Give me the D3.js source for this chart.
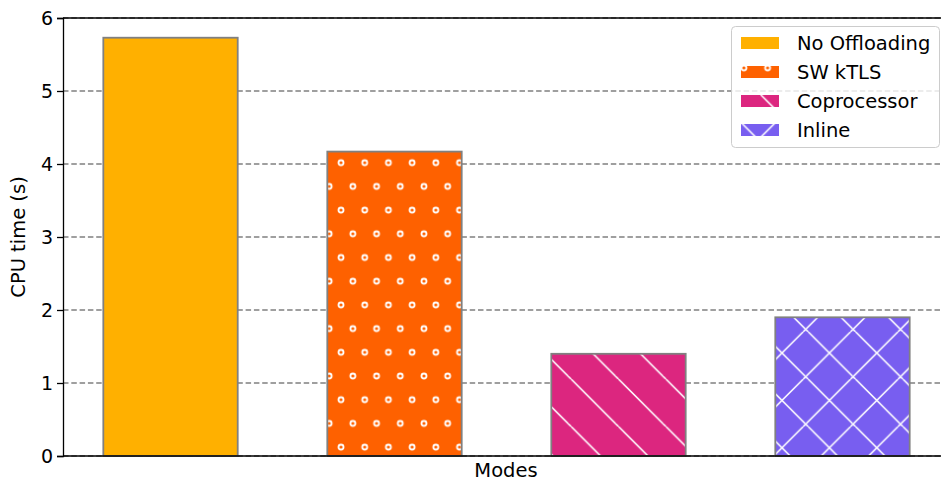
<!DOCTYPE html>
<html>
<head>
<meta charset="utf-8">
<script src="https://cdn.jsdelivr.net/npm/d3@7"></script>
<style>
body { margin: 0; background: #fff; }
svg { display: block; font-family: "DejaVu Sans", sans-serif; }
</style>
</head>
<body>
<svg id="chart" width="941" height="483"></svg>
<script>
// chart data
var modes = ["No Offloading", "SW kTLS", "Coprocessor", "Inline"]
var cpuTime = [5.73, 4.17, 1.40, 1.90]
var colors = ["#FFB000", "#FE6100", "#DC267F", "#785EF0"]
var hatches = ["none", "o", "\\", "x"]
var yTicks = [0, 1, 2, 3, 4, 5, 6]

var width = 941
var height = 483
// plot area edges (window.top is read-only, so no "top" here)
var plotL = 63, plotR = 950, plotT = 18, plotB = 456

var svg = d3.select("#chart")
var defs = svg.append("defs")

// hatch patterns, anchored to the page like matplotlib does
var T = 47.4
var circ = defs.append("pattern").attr("id", "hatch-o")
	.attr("patternUnits", "userSpaceOnUse")
	.attr("x", 3.3).attr("y", 8.65)
	.attr("width", T / 2).attr("height", T)
circ.append("rect").attr("width", T / 2).attr("height", T).attr("fill", colors[1])
;[[T / 8, T / 4], [T * 3 / 8, T * 3 / 4]].forEach(p => {
	circ.append("circle").attr("cx", p[0]).attr("cy", p[1]).attr("r", 2.5)
		.attr("fill", "none").attr("stroke", "#fff").attr("stroke-width", 1.8)
})

var back = defs.append("pattern").attr("id", "hatch-back")
	.attr("patternUnits", "userSpaceOnUse")
	.attr("width", T).attr("height", T)
back.append("rect").attr("width", T).attr("height", T).attr("fill", colors[2])
;[-1, 0, 1].forEach(k => {
	var c = 2.4 + k * T
	back.append("line").attr("x1", c).attr("y1", 0).attr("x2", c + T).attr("y2", T)
		.attr("stroke", "#fff").attr("stroke-width", 1.6)
})

var cross = defs.append("pattern").attr("id", "hatch-x")
	.attr("patternUnits", "userSpaceOnUse")
	.attr("width", T).attr("height", T)
cross.append("rect").attr("width", T).attr("height", T).attr("fill", colors[3])
;[-1, 0, 1].forEach(k => {
	var c = 2.4 + k * T
	cross.append("line").attr("x1", c).attr("y1", 0).attr("x2", c + T).attr("y2", T)
		.attr("stroke", "#fff").attr("stroke-width", 1.6)
})
;[-1, 0, 1, 2].forEach(k => {
	var c = 44.8 + k * T
	cross.append("line").attr("x1", c).attr("y1", 0).attr("x2", c - T).attr("y2", T)
		.attr("stroke", "#fff").attr("stroke-width", 1.6)
})

var fillFor = i => hatches[i] === "o" ? "url(#hatch-o)"
	: hatches[i] === "\\" ? "url(#hatch-back)"
	: hatches[i] === "x" ? "url(#hatch-x)" : colors[i]

// scales
var x = d3.scaleBand().domain(modes).range([plotL, plotR])
	.paddingInner(0.4).paddingOuter(0.18)
var y = d3.scaleLinear().domain([0, 6]).range([plotB, plotT])

// grid
svg.append("g").selectAll("line").data(yTicks).enter().append("line")
	.attr("x1", plotL).attr("x2", width)
	.attr("y1", d => y(d)).attr("y2", d => y(d))
	.attr("stroke", "#808080").attr("stroke-width", 1.3)
	.attr("stroke-dasharray", "5.5,2.8")

// bars
svg.append("g").selectAll("rect").data(modes).enter().append("rect")
	.attr("x", d => x(d))
	.attr("width", x.bandwidth())
	.attr("y", (d, i) => y(cpuTime[i]))
	.attr("height", (d, i) => y(0) - y(cpuTime[i]))
	.attr("fill", (d, i) => fillFor(i))
	.attr("stroke", "#808080")
	.attr("stroke-width", 1.8)

// y axis
var yAxis = svg.append("g")
	.attr("transform", "translate(" + plotL + ",0)")
	.call(d3.axisLeft(y).tickValues(yTicks).tickFormat(d3.format("d")).tickSize(6).tickPadding(4))
yAxis.select(".domain").attr("stroke", "#000").attr("stroke-width", 1.3)
yAxis.selectAll(".tick line").attr("stroke", "#000").attr("stroke-width", 1.3)
yAxis.selectAll(".tick text").attr("font-size", "19px").attr("fill", "#000")
	.attr("font-family", "DejaVu Sans")

// spines top and bottom
svg.append("line").attr("x1", plotL).attr("x2", width).attr("y1", plotT).attr("y2", plotT)
	.attr("stroke", "#000").attr("stroke-width", 1.3)
svg.append("line").attr("x1", plotL).attr("x2", width).attr("y1", plotB).attr("y2", plotB)
	.attr("stroke", "#000").attr("stroke-width", 1.3)

// axis labels
svg.append("text")
	.attr("transform", "translate(25," + ((plotT + plotB) / 2) + ") rotate(-90)")
	.attr("text-anchor", "middle")
	.attr("font-size", "19.5px")
	.text("CPU time (s)")
svg.append("text")
	.attr("x", 506).attr("y", 477)
	.attr("text-anchor", "middle")
	.attr("font-size", "19.5px")
	.text("Modes")

// legend
var legend = svg.append("g")
legend.append("rect")
	.attr("x", 731.5).attr("y", 26.5).attr("width", 208).attr("height", 121)
	.attr("rx", 4).attr("ry", 4)
	.attr("fill", "#fff").attr("fill-opacity", 0.8)
	.attr("stroke", "#cccccc").attr("stroke-width", 1)
var rows = legend.selectAll("g.row").data(modes).enter().append("g").attr("class", "row")
rows.append("rect")
	.attr("x", 741).attr("width", 38)
	.attr("y", (d, i) => 37 + i * 29).attr("height", 12)
	.attr("fill", (d, i) => fillFor(i))
rows.append("text")
	.attr("x", 797).attr("y", (d, i) => 50 + i * 29)
	.attr("font-size", "19.5px")
	.text(d => d)
</script>
</body>
</html>
